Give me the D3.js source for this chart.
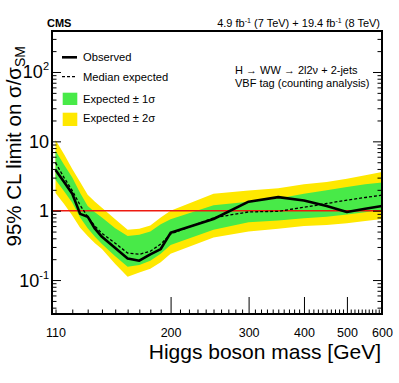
<!DOCTYPE html>
<html>
<head>
<meta charset="utf-8">
<script src="https://cdn.jsdelivr.net/npm/d3@7"></script>
<style>
  body { margin: 0; background: #fff; }
  text { font-family: "Liberation Sans", Arial, Helvetica, sans-serif; fill: #000; }
</style>
</head>
<body>
<div id="chart"></div>
<script>
// values
var mass     = [110,115,120,125,130,135,140,150,160,170,180,190,200,250,300,350,400,450,500,550,600];
var observed = [3.85,2.6,1.75,0.9,0.82,0.55,0.42,0.29,0.205,0.19,0.235,0.28,0.48,0.76,1.35,1.57,1.4,1.17,0.96,1.07,1.17];
var expected = [4.9,3.0,1.95,1.2,0.82,0.6,0.47,0.34,0.245,0.235,0.26,0.33,0.46,0.79,0.96,0.98,1.12,1.27,1.42,1.55,1.68];
var exp1Lo   = [2.8,1.9,1.3,0.8,0.56,0.42,0.33,0.22,0.155,0.165,0.19,0.24,0.32,0.53,0.68,0.72,0.78,0.82,0.88,0.95,1.03];
var exp1Hi   = [7.3,4.6,3.0,1.8,1.17,0.95,0.8,0.56,0.43,0.45,0.5,0.64,0.75,1.2,1.35,1.5,1.75,1.97,2.2,2.4,2.55];
var exp2Lo   = [1.8,1.25,0.85,0.57,0.43,0.34,0.28,0.17,0.112,0.128,0.145,0.18,0.24,0.41,0.5,0.55,0.6,0.62,0.66,0.71,0.76];
var exp2Hi   = [10.5,6.5,4.0,2.6,1.7,1.35,1.1,0.75,0.53,0.55,0.61,0.8,1.0,1.75,1.95,2.1,2.4,2.6,2.9,3.25,3.6];

var xLabelTicks = [110,200,300,400,500,600];
var xMajorTicks = [200,300,400,500];
var yMajorTicks = [0.1,1,10,100];
var yLabels = [{v:0.1, base:"10", sup:"-1"}, {v:1, base:"1", sup:""}, {v:10, base:"10", sup:""}, {v:100, base:"10", sup:"2"}];

var W = 399, H = 383;
var plotL = 52, plotR = 382, plotT = 31, plotB = 314;

var svg = d3.select("#chart").append("svg")
    .attr("width", W)
    .attr("height", H);

var x = d3.scaleLog().domain([108, 600]).range([plotL, plotR]);
var y = d3.scaleLog().domain([0.0324, 390]).range([plotB, plotT]);

var data = mass.map(function(m, i) {
  return {m: m, obs: observed[i], exp: expected[i], lo1: exp1Lo[i], hi1: exp1Hi[i], lo2: exp2Lo[i], hi2: exp2Hi[i]};
});

// bands
svg.append("path")
    .datum(data)
    .attr("fill", "#ffe800")
    .attr("d", d3.area().x(function(d) { return x(d.m); }).y0(function(d) { return y(d.lo2); }).y1(function(d) { return y(d.hi2); }));
svg.append("path")
    .datum(data)
    .attr("fill", "#48ea48")
    .attr("d", d3.area().x(function(d) { return x(d.m); }).y0(function(d) { return y(d.lo1); }).y1(function(d) { return y(d.hi1); }));

// SM line at 1
svg.append("line")
    .attr("x1", plotL).attr("x2", plotR)
    .attr("y1", y(1)).attr("y2", y(1))
    .attr("stroke", "#ee1a10")
    .attr("stroke-width", 1.4);

svg.append("path")
    .datum(data)
    .attr("fill", "none")
    .attr("stroke", "#000")
    .attr("stroke-width", 1.3)
    .attr("stroke-dasharray", "3,2")
    .attr("d", d3.line().x(function(d) { return x(d.m); }).y(function(d) { return y(d.exp); }));

svg.append("path")
    .datum(data)
    .attr("fill", "none")
    .attr("stroke", "#000")
    .attr("stroke-width", 2.6)
    .attr("stroke-linejoin", "round")
    .attr("d", d3.line().x(function(d) { return x(d.m); }).y(function(d) { return y(d.obs); }));

// axes (ticks pointing inward)
var xMinor = d3.range(110, 600, 10).filter(function(v) { return xMajorTicks.indexOf(v) < 0; });
var yMinor = [];
[0.01, 0.1, 1, 10, 100].forEach(function(d) {
  for (var k = 2; k <= 9; k++) {
    var v = d * k;
    if (v > 0.0324 && v < 390) yMinor.push(v);
  }
});

function clean(g) {
  g.select(".domain").remove();
  g.selectAll("line").attr("stroke", "#000").attr("stroke-width", 1);
}

svg.append("g").attr("transform", "translate(0," + plotB + ")")
    .call(d3.axisBottom(x).tickValues(xMajorTicks).tickSize(-17).tickFormat(""))
    .call(clean);
svg.append("g").attr("transform", "translate(0," + plotB + ")")
    .call(d3.axisBottom(x).tickValues(xMinor).tickSize(-4.5).tickFormat(""))
    .call(clean);
svg.append("g").attr("transform", "translate(0," + plotB + ")")
    .call(d3.axisBottom(x).tickValues(xLabelTicks).tickSize(0).tickPadding(14).tickFormat(d3.format("d")))
    .call(function(g) {
      g.select(".domain").remove();
      g.selectAll("text").style("font-size", "12.5px").style("font-family", "Liberation Sans, Arial, sans-serif");
    });

[[d3.axisLeft, plotL, -9, yMajorTicks], [d3.axisLeft, plotL, -4.5, yMinor],
 [d3.axisRight, plotR, -9, yMajorTicks], [d3.axisRight, plotR, -4.5, yMinor]].forEach(function(a) {
  svg.append("g").attr("transform", "translate(" + a[1] + ",0)")
      .call(a[0](y).tickValues(a[3]).tickSize(a[2]).tickFormat(""))
      .call(clean);
});

// y tick labels with exponents
var yl = svg.append("g").selectAll("text")
    .data(yLabels)
  .enter().append("text")
    .attr("x", 49)
    .attr("y", function(d) { return y(d.v) + 6.5; })
    .attr("text-anchor", "end")
    .style("font-size", "18px");
yl.append("tspan").text(function(d) { return d.base; });
yl.append("tspan")
    .attr("dy", -8)
    .style("font-size", "11px")
    .text(function(d) { return d.sup; });

// frame
svg.append("rect")
    .attr("x", plotL).attr("y", plotT)
    .attr("width", plotR - plotL).attr("height", plotB - plotT)
    .attr("fill", "none")
    .attr("stroke", "#000")
    .attr("stroke-width", 2);

// axis titles
svg.append("text")
    .attr("x", 381).attr("y", 359)
    .attr("text-anchor", "end")
    .style("font-size", "21px")
    .text("Higgs boson mass [GeV]");

var yt = svg.append("text")
    .attr("transform", "translate(21,46) rotate(-90)")
    .attr("text-anchor", "end")
    .style("font-size", "20.5px");
yt.append("tspan").text("95% CL limit on σ/σ");
yt.append("tspan").attr("dy", 4).style("font-size", "14px").text("SM");

// header
svg.append("text")
    .attr("x", 47).attr("y", 27)
    .style("font-size", "11px")
    .style("font-weight", "bold")
    .text("CMS");
var lumi = svg.append("text")
    .attr("x", 380).attr("y", 27)
    .attr("text-anchor", "end")
    .style("font-size", "11px");
lumi.append("tspan").text("4.9 fb");
lumi.append("tspan").attr("dy", -4).style("font-size", "7px").text("-1");
lumi.append("tspan").attr("dy", 4).text(" (7 TeV) + 19.4 fb");
lumi.append("tspan").attr("dy", -4).style("font-size", "7px").text("-1");
lumi.append("tspan").attr("dy", 4).text(" (8 TeV)");

// legend
var legend = svg.append("g");
legend.append("line").attr("x1", 62).attr("x2", 77).attr("y1", 57.3).attr("y2", 57.3)
    .attr("stroke", "#000").attr("stroke-width", 2.6);
legend.append("line").attr("x1", 62).attr("x2", 77).attr("y1", 76.7).attr("y2", 76.7)
    .attr("stroke", "#000").attr("stroke-width", 1.3).attr("stroke-dasharray", "3,2");
legend.append("rect").attr("x", 62.7).attr("y", 92.7).attr("width", 14.6).attr("height", 12.3).attr("fill", "#48ea48");
legend.append("rect").attr("x", 62.7).attr("y", 112.7).attr("width", 14.6).attr("height", 13.3).attr("fill", "#ffe800");
var legendText = ["Observed", "Median expected", "Expected ± 1σ", "Expected ± 2σ"];
var legendY = [61.3, 80.7, 103, 122.3];
legend.selectAll("text.lt")
    .data(legendText)
  .enter().append("text")
    .attr("class", "lt")
    .attr("x", 83)
    .attr("y", function(d, i) { return legendY[i]; })
    .style("font-size", "11.2px")
    .text(function(d) { return d; });

// process label
svg.append("text").attr("x", 235).attr("y", 74)
    .style("font-size", "11px")
    .text("H → WW → 2l2ν + 2-jets");
svg.append("text").attr("x", 235).attr("y", 86.5)
    .style("font-size", "11px")
    .text("VBF tag (counting analysis)");
</script>
</body>
</html>
